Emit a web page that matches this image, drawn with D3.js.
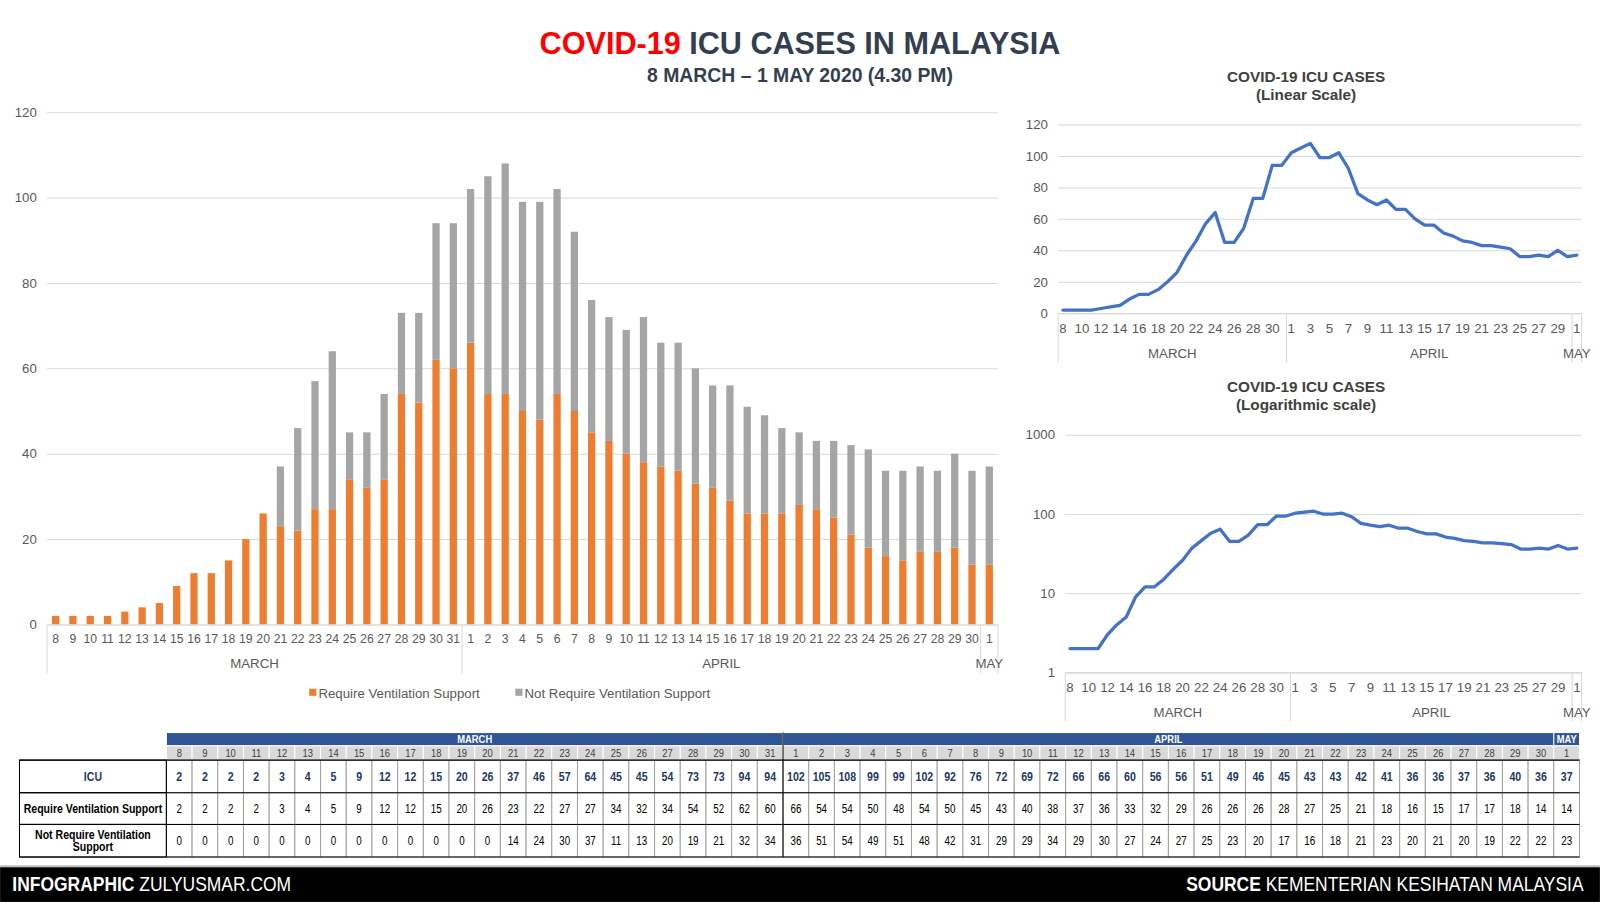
<!DOCTYPE html>
<html>
<head>
<meta charset="utf-8">
<script src="https://cdn.jsdelivr.net/npm/d3@7"></script>
<style>
  body { margin: 0; background: #fff; }
  svg { display: block; font-family: "Liberation Sans", Arial, sans-serif; }
</style>
</head>
<body>
<div id="chart"></div>
<script>
// Dados
var marchDays = [8, 9, 10, 11, 12, 13, 14, 15, 16, 17, 18, 19, 20, 21, 22, 23, 24, 25, 26, 27, 28, 29, 30, 31];
var aprilDays = [1, 2, 3, 4, 5, 6, 7, 8, 9, 10, 11, 12, 13, 14, 15, 16, 17, 18, 19, 20, 21, 22, 23, 24, 25, 26, 27, 28, 29, 30];
var mayDays = [1];
var monthNames = ["MARCH", "APRIL", "MAY"];

var icu = [2, 2, 2, 2, 3, 4, 5, 9, 12, 12, 15, 20, 26, 37, 46, 57, 64, 45, 45, 54, 73, 73, 94, 94,
  102, 105, 108, 99, 99, 102, 92, 76, 72, 69, 72, 66, 66, 60, 56, 56, 51, 49, 46, 45, 43, 43, 42, 41, 36, 36, 37, 36, 40, 36,
  37];
var ventilated = [2, 2, 2, 2, 3, 4, 5, 9, 12, 12, 15, 20, 26, 23, 22, 27, 27, 34, 32, 34, 54, 52, 62, 60,
  66, 54, 54, 50, 48, 54, 50, 45, 43, 40, 38, 37, 36, 33, 32, 29, 26, 26, 26, 28, 27, 25, 21, 18, 16, 15, 17, 17, 18, 14,
  14];
var notVentilated = [0, 0, 0, 0, 0, 0, 0, 0, 0, 0, 0, 0, 0, 14, 24, 30, 37, 11, 13, 20, 19, 21, 32, 34,
  36, 51, 54, 49, 51, 48, 42, 31, 29, 29, 34, 29, 30, 27, 24, 27, 25, 23, 20, 17, 16, 18, 21, 23, 20, 21, 20, 19, 22, 22,
  23];

var seriesNames = ["Require Ventilation Support", "Not Require Ventilation Support"];
var barTicks = [0, 20, 40, 60, 80, 100, 120];
var linTicks = [0, 20, 40, 60, 80, 100, 120];
var logTicks = [1, 10, 100, 1000];

var orange = "#ED7D31", grey = "#A5A5A5", blue = "#4472C4";
var axisGrey = "#595959", gridGrey = "#D9D9D9";
var fontAxis = "Liberation Sans, Arial, sans-serif";

// montando linhas por dia
var data = [];
[marchDays, aprilDays, mayDays].forEach(function (list, m) {
  list.forEach(function (d) {
    data.push({ key: monthNames[m] + "-" + d, day: d, month: monthNames[m] });
  });
});
data.forEach(function (d, i) {
  d.icu = icu[i];
  d.vent = ventilated[i];
  d.notVent = notVentilated[i];
});
var keys = data.map(d => d.key);

// sistema de coordenadas 1568 de largura
var svg = d3.select("#chart").append("svg")
  .attr("width", 1600)
  .attr("height", 905)
  .attr("viewBox", "0 0 1568 887");

// Titulo
var title = svg.append("text")
  .attr("x", 784).attr("y", 53)
  .attr("text-anchor", "middle")
  .attr("font-size", 30).attr("font-weight", "bold");
title.append("tspan").attr("fill", "#FF0000").text("COVID-19");
title.append("tspan").attr("fill", "#333F50").text(" ICU CASES IN MALAYSIA");

svg.append("text")
  .attr("x", 784).attr("y", 80)
  .attr("text-anchor", "middle")
  .attr("font-size", 19).attr("font-weight", "bold")
  .attr("fill", "#333F50")
  .text("8 MARCH \u2013 1 MAY 2020 (4.30 PM)");

// separadores de mes no eixo
function monthSeparators(g, x, y0, y1, labelY, fontSize) {
  var starts = monthNames.map(m => data.find(d => d.month == m).key);
  var edges = starts.map(k => x(k) - (x.step() - x.bandwidth()) / 2);
  edges.push(x.range()[1]);
  g.selectAll(".sep").data(edges).enter().append("line")
    .attr("x1", d => d).attr("x2", d => d)
    .attr("y1", y0).attr("y2", y1)
    .attr("stroke", gridGrey);
  monthNames.forEach(function (m, i) {
    g.append("text")
      .attr("x", (edges[i] + edges[i + 1]) / 2)
      .attr("y", labelY)
      .attr("text-anchor", "middle")
      .attr("font-size", fontSize)
      .attr("fill", axisGrey)
      .text(m);
  });
}

// ---------- Grafico de barras ----------
var bx = d3.scaleBand().domain(keys).range([46, 978]).paddingInner(0.58).paddingOuter(0.29);
var by = d3.scaleLinear().domain([0, 120]).range([612, 110]);

var gBar = svg.append("g");

gBar.append("g")
  .attr("transform", "translate(46,0)")
  .call(d3.axisLeft(by).tickValues(barTicks).tickSize(-932).tickPadding(10))
  .call(g => g.select(".domain").remove())
  .call(g => g.selectAll(".tick line").attr("stroke", gridGrey))
  .call(g => g.selectAll(".tick text").attr("fill", axisGrey).attr("font-size", 13).attr("font-family", fontAxis));

var stack = d3.stack().keys(["vent", "notVent"])(data);
gBar.selectAll(".layer").data(stack).enter().append("g")
  .attr("fill", (d, i) => i == 0 ? orange : grey)
  .selectAll("rect").data(d => d).enter().append("rect")
  .attr("x", d => bx(d.data.key))
  .attr("width", bx.bandwidth())
  .attr("y", d => by(d[1]))
  .attr("height", d => by(d[0]) - by(d[1]));

gBar.append("g")
  .attr("transform", "translate(0,612)")
  .call(d3.axisBottom(bx).tickSize(0).tickPadding(10).tickFormat((k, i) => data[i].day))
  .call(g => g.select(".domain").attr("stroke", gridGrey))
  .call(g => g.selectAll(".tick text").attr("fill", axisGrey).attr("font-size", 12).attr("font-family", fontAxis));

monthSeparators(gBar, bx, 612, 660, 655, 13);

// legenda
var legend = svg.append("g").attr("transform", "translate(303,679)");
seriesNames.forEach(function (name, i) {
  var lx = i * 202;
  legend.append("rect").attr("x", lx).attr("y", -4).attr("width", 7).attr("height", 7)
    .attr("fill", i == 0 ? orange : grey);
  legend.append("text").attr("x", lx + 9).attr("y", 5)
    .attr("font-size", 13).attr("fill", axisGrey).text(name);
});

// ---------- Graficos de linha ----------
function lineChart(cfg) {
  var g = svg.append("g");
  var x = d3.scaleBand().domain(keys).range([cfg.left, cfg.right]);
  var y = cfg.log
    ? d3.scaleLog().domain([1, 1000]).range([cfg.bottom, cfg.top])
    : d3.scaleLinear().domain([0, 120]).range([cfg.bottom, cfg.top]);

  g.append("text").attr("x", 1280).attr("y", cfg.titleY)
    .attr("text-anchor", "middle").attr("font-size", 15).attr("font-weight", "bold")
    .attr("fill", "#404040").text("COVID-19 ICU CASES");
  g.append("text").attr("x", 1280).attr("y", cfg.titleY + 18)
    .attr("text-anchor", "middle").attr("font-size", 15).attr("font-weight", "bold")
    .attr("fill", "#404040").text(cfg.subtitle);

  g.append("g")
    .attr("transform", "translate(" + cfg.left + ",0)")
    .call(d3.axisLeft(y).tickValues(cfg.ticks).tickFormat(d3.format("d"))
      .tickSize(-(cfg.right - cfg.left)).tickPadding(10))
    .call(a => a.select(".domain").remove())
    .call(a => a.selectAll(".tick line").attr("stroke", gridGrey))
    .call(a => a.selectAll(".tick text").attr("fill", axisGrey).attr("font-size", 13).attr("font-family", fontAxis));

  g.append("g")
    .attr("transform", "translate(0," + cfg.bottom + ")")
    .call(d3.axisBottom(x).tickSize(0).tickPadding(10)
      .tickValues(keys.filter((k, i) => i % 2 == 0))
      .tickFormat(k => data[keys.indexOf(k)].day))
    .call(a => a.select(".domain").attr("stroke", gridGrey))
    .call(a => a.selectAll(".tick text").attr("fill", axisGrey).attr("font-size", 13).attr("font-family", fontAxis));

  monthSeparators(g, x, cfg.bottom, cfg.bottom + 48, cfg.bottom + 44, 13);

  var line = d3.line()
    .x(d => x(d.key) + x.bandwidth() / 2)
    .y(d => y(d.icu));

  g.append("path")
    .datum(data)
    .attr("fill", "none")
    .attr("stroke", blue)
    .attr("stroke-width", 3.2)
    .attr("stroke-linejoin", "round")
    .attr("stroke-linecap", "round")
    .attr("d", line);
}

lineChart({ left: 1037, right: 1550, top: 122, bottom: 307, titleY: 80, subtitle: "(Linear Scale)", ticks: linTicks, log: false });
lineChart({ left: 1044, right: 1550, top: 426, bottom: 659, titleY: 384, subtitle: "(Logarithmic scale)", ticks: logTicks, log: true });

// ---------- Tabela ----------
// texto estreito (imitando Arial Narrow)
function narrowText(g, cx, cy, txt, size, weight, fill, sx, anchor) {
  return g.append("text")
    .attr("transform", "translate(" + cx + "," + cy + ") scale(" + (sx || 0.8) + ",1)")
    .attr("text-anchor", anchor || "middle")
    .attr("font-size", size)
    .attr("font-weight", weight)
    .attr("fill", fill)
    .text(txt);
}

var tx = d3.scaleBand().domain(keys).range([163, 1548]);
var tbl = svg.append("g");
var monthRowY = 718, dayRowY = 731, rowTop = 745;
var rowH = [32, 31, 32];
var labelLeft = 19;

// cabecalho de meses
monthNames.forEach(function (m) {
  var ks = data.filter(d => d.month == m).map(d => d.key);
  var x0 = tx(ks[0]), x1 = tx(ks[ks.length - 1]) + tx.bandwidth();
  tbl.append("rect").attr("x", x0).attr("y", monthRowY).attr("width", x1 - x0).attr("height", 13)
    .attr("fill", "#2F5597").attr("stroke", "#fff").attr("stroke-width", 1);
  narrowText(tbl, (x0 + x1) / 2, monthRowY + 10.5, m, 11.5, "bold", "#fff");
});

// linha de dias
tbl.selectAll(".dayCell").data(data).enter().append("rect")
  .attr("x", d => tx(d.key)).attr("y", dayRowY)
  .attr("width", tx.bandwidth()).attr("height", 14)
  .attr("fill", "#D9D9D9").attr("stroke", "#fff").attr("stroke-width", 1);
data.forEach(function (d) {
  narrowText(tbl, tx(d.key) + tx.bandwidth() / 2, dayRowY + 11, d.day, 11.5, "normal", "#404040");
});

var rows = [
  { label: ["ICU"], field: "icu", bold: true, color: "#1F3864" },
  { label: ["Require Ventilation Support"], field: "vent", bold: false, color: "#000" },
  { label: ["Not Require Ventilation", "Support"], field: "notVent", bold: false, color: "#000" }
];

var yTop = rowTop;
rows.forEach(function (r, ri) {
  var h = rowH[ri];
  var mid = yTop + h / 2;
  tbl.append("rect").attr("x", labelLeft).attr("y", yTop).attr("width", 163 - labelLeft).attr("height", h)
    .attr("fill", "#fff").attr("stroke", "#000").attr("stroke-width", 1);
  r.label.forEach(function (s, li) {
    narrowText(tbl, (labelLeft + 163) / 2, mid + 4.5 + (li - (r.label.length - 1) / 2) * 12, s,
      12, "bold", ri == 0 ? "#1F3864" : "#000", 0.86);
  });
  tbl.selectAll(".cell" + ri).data(data).enter().append("rect")
    .attr("x", d => tx(d.key)).attr("y", yTop)
    .attr("width", tx.bandwidth()).attr("height", h)
    .attr("fill", "#fff").attr("stroke", "#A0A0A0").attr("stroke-width", 1);
  data.forEach(function (d) {
    narrowText(tbl, tx(d.key) + tx.bandwidth() / 2, mid + 4.5, d[r.field],
      r.bold ? 13 : 12, r.bold ? "bold" : "normal", r.color);
  });
  yTop += h;
});
// bordas horizontais pretas
var yy = rowTop;
tbl.append("line").attr("x1", labelLeft).attr("x2", 1548).attr("y1", yy).attr("y2", yy).attr("stroke", "#000");
rowH.forEach(function (h) {
  yy += h;
  tbl.append("line").attr("x1", labelLeft).attr("x2", 1548).attr("y1", yy).attr("y2", yy)
    .attr("stroke", "#000").attr("stroke-width", 1);
});
var aprilStart = tx(data.find(d => d.month == "APRIL").key);
tbl.append("line").attr("x1", aprilStart).attr("x2", aprilStart).attr("y1", monthRowY).attr("y2", yy)
  .attr("stroke", "#000");
tbl.append("line").attr("x1", 163).attr("x2", 163).attr("y1", rowTop).attr("y2", yy)
  .attr("stroke", "#000");

// ---------- Rodape ----------
svg.append("rect").attr("x", 0).attr("y", 848).attr("width", 1568).attr("height", 2).attr("fill", "#BFBFBF");
svg.append("rect").attr("x", 0).attr("y", 850).attr("width", 1568).attr("height", 34).attr("fill", "#000");
var f1 = svg.append("text")
  .attr("transform", "translate(12,873) scale(0.9,1)")
  .attr("font-size", 19).attr("fill", "#fff");
f1.append("tspan").attr("font-weight", "bold").text("INFOGRAPHIC");
f1.append("tspan").text(" ZULYUSMAR.COM");
var f2 = svg.append("text")
  .attr("transform", "translate(1552,873) scale(0.9,1)")
  .attr("text-anchor", "end")
  .attr("font-size", 19).attr("fill", "#fff");
f2.append("tspan").attr("font-weight", "bold").text("SOURCE");
f2.append("tspan").text(" KEMENTERIAN KESIHATAN MALAYSIA");
</script>
</body>
</html>
